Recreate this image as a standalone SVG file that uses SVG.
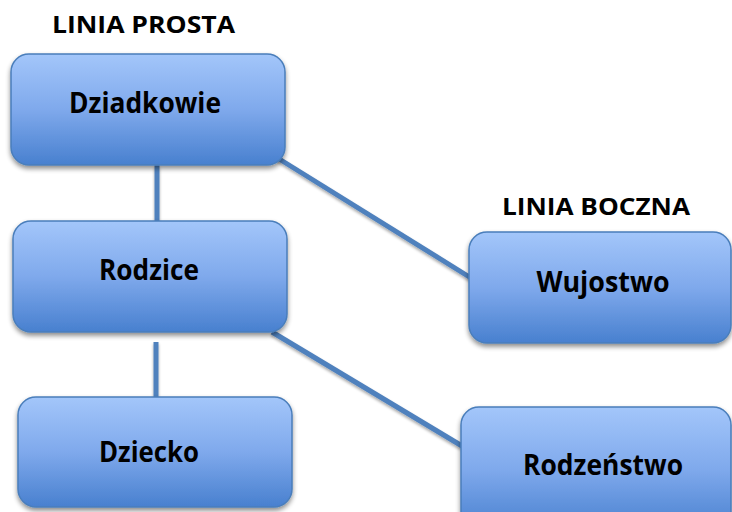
<svg xmlns="http://www.w3.org/2000/svg" width="732" height="512" viewBox="0 0 732 512">
<style>
.box{fill:url(#g);stroke:#4A7EBB;stroke-width:1.5;filter:url(#sh)}
.lbl{font-family:"Open Sans","Liberation Sans",sans-serif;font-weight:bold;fill:#000}
.node{font-size:28px;text-anchor:middle}
.head{font-size:24px}
.con{stroke:#4F81BD;stroke-width:5;fill:none}
</style>
<defs>
<linearGradient id="g" x1="0" y1="0" x2="0" y2="1">
<stop offset="0" stop-color="#A3C6FA"/>
<stop offset="0.5" stop-color="#7FA9EC"/>
<stop offset="1" stop-color="#4880CF"/>
</linearGradient>
<filter id="sh" x="-10%" y="-10%" width="120%" height="130%">
<feGaussianBlur in="SourceAlpha" stdDeviation="2.5"/>
<feOffset dx="0" dy="3" result="b"/>
<feComponentTransfer><feFuncA type="linear" slope="0.45"/></feComponentTransfer>
<feMerge><feMergeNode/><feMergeNode in="SourceGraphic"/></feMerge>
</filter>
<filter id="sh2" filterUnits="userSpaceOnUse" x="0" y="0" width="732" height="512">
<feGaussianBlur in="SourceAlpha" stdDeviation="1.5"/>
<feOffset dx="0" dy="2" result="b"/>
<feComponentTransfer><feFuncA type="linear" slope="0.35"/></feComponentTransfer>
<feMerge><feMergeNode/><feMergeNode in="SourceGraphic"/></feMerge>
</filter>
</defs>
<rect width="732" height="512" fill="#fff"/>
<g id="connectors" filter="url(#sh2)">
<line class="con" x1="157" y1="165" x2="157" y2="221"/>
<line class="con" x1="156" y1="342" x2="156" y2="397"/>
<line class="con" x1="276" y1="157" x2="471" y2="278"/>
<line class="con" x1="272" y1="332" x2="462" y2="446"/>
</g>
<text class="lbl head" x="52" y="33" textLength="183" lengthAdjust="spacingAndGlyphs">LINIA PROSTA</text>
<text class="lbl head" x="502" y="215" textLength="188" lengthAdjust="spacingAndGlyphs">LINIA BOCZNA</text>
<g id="dziadkowie">
<rect class="box" x="11" y="54" width="274" height="111" rx="18"/>
<text class="lbl node" x="145" y="113" textLength="152" lengthAdjust="spacingAndGlyphs">Dziadkowie</text>
</g>
<g id="rodzice">
<rect class="box" x="13" y="221" width="274" height="111" rx="18"/>
<text class="lbl node" x="149" y="280" textLength="100" lengthAdjust="spacingAndGlyphs">Rodzice</text>
</g>
<g id="dziecko">
<rect class="box" x="18" y="397" width="274" height="110" rx="18"/>
<text class="lbl node" x="149" y="462" textLength="100" lengthAdjust="spacingAndGlyphs">Dziecko</text>
</g>
<g id="wujostwo">
<rect class="box" x="469" y="232" width="262" height="111" rx="18"/>
<text class="lbl node" x="603" y="292" textLength="133" lengthAdjust="spacingAndGlyphs">Wujostwo</text>
</g>
<g id="rodzenstwo">
<rect class="box" x="461" y="407" width="270" height="125" rx="18"/>
<text class="lbl node" x="603" y="475" textLength="160" lengthAdjust="spacingAndGlyphs">Rodzeństwo</text>
</g>
</svg>
